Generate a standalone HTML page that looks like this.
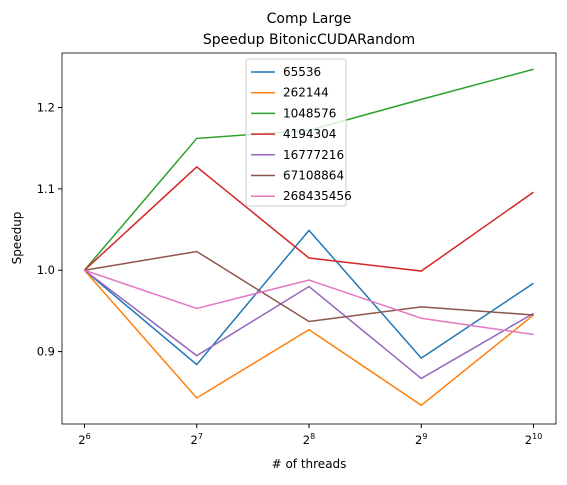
<!DOCTYPE html>
<html><head><meta charset="utf-8"><style>body{margin:0;background:#fff}svg{font-family:"DejaVu Sans","Liberation Sans",sans-serif}</style></head>
<body>
<svg id="chart" width="567" height="480" viewBox="0 0 567 480"></svg>
<script>
const categories=[6,7,8,9,10];
const seriesNames=["65536","262144","1048576","4194304","16777216","67108864","268435456"];
const s65536=[1.0,0.884,1.049,0.892,0.984];
const s262144=[1.0,0.843,0.927,0.834,0.945];
const s1048576=[1.0,1.162,1.172,1.210,1.247];
const s4194304=[1.0,1.127,1.015,0.999,1.096];
const s16777216=[1.0,0.895,0.980,0.867,0.947];
const s67108864=[1.0,1.023,0.937,0.955,0.945];
const s268435456=[1.0,0.953,0.988,0.941,0.921];
const yTicks=[0.9,1.0,1.1,1.2];
const series=[s65536,s262144,s1048576,s4194304,s16777216,s67108864,s268435456];
const colors=["#1f77b4","#ff7f0e","#2ca02c","#d62728","#9467bd","#8c564b","#e377c2"];
const L=62,R=556,T=53,B=424,ymin=0.811,ymax=1.267;
const xs=v=>L+(v-5.8)/(4.4)*(R-L);
const ys=v=>B-(v-ymin)/(ymax-ymin)*(B-T);
const svg=document.getElementById('chart');const NS="http://www.w3.org/2000/svg";
function mk(t,a,p){const e=document.createElementNS(NS,t);for(const k in a)e.setAttribute(k,a[k]);(p||svg).appendChild(e);return e;}
function txt(s,a,name){const e=mk('text',a);e.textContent=s;return e;}
txt("Comp Large",{x:309,y:23,'text-anchor':'middle','font-size':14},'chart-title');
txt("Speedup BitonicCUDARandom",{x:309,y:44,'text-anchor':'middle','font-size':14},'chart-subtitle');
series.forEach((s,i)=>{const p=mk('polyline',{points:s.map((v,j)=>xs(categories[j])+','+ys(v)).join(' '),fill:'none',stroke:colors[i],'stroke-width':1.5});

});
const fr=mk('rect',{x:L,y:T,width:R-L,height:B-T,fill:'none',stroke:'#000','stroke-width':0.8});


categories.forEach(c=>{const x=xs(c);mk('line',{x1:x,x2:x,y1:B,y2:B+4,stroke:'#000'});
const t=txt('',{x:x,y:B+20,'text-anchor':'middle','font-size':11.5},'x-tick-label');
t.innerHTML='2<tspan dy="-5" font-size="8">'+c+'</tspan>';});
yTicks.forEach(v=>{const y=ys(v);mk('line',{x1:L-4,x2:L,y1:y,y2:y,stroke:'#000'});
txt(v.toFixed(1),{x:L-7,y:y+4,'text-anchor':'end','font-size':11.5},'y-tick-label');});
txt("# of threads",{x:309,y:468,'text-anchor':'middle','font-size':12},'x-axis-title');
txt("Speedup",{x:21,y:238,'text-anchor':'middle','font-size':12,transform:'rotate(-90 21 238)'},'y-axis-title');
const lg=mk('g',{});
mk('rect',{x:246,y:59,width:100,height:147,rx:2,fill:'#fff',stroke:'#ccc','fill-opacity':0.8},lg);
seriesNames.forEach((n,i)=>{const y=72+i*20.7;mk('line',{x1:251,x2:275,y1:y,y2:y,stroke:colors[i],'stroke-width':1.5},lg);
const t=mk('text',{x:283,y:y+4,'font-size':12},lg);t.textContent=n;

});
</script>
</body></html>
